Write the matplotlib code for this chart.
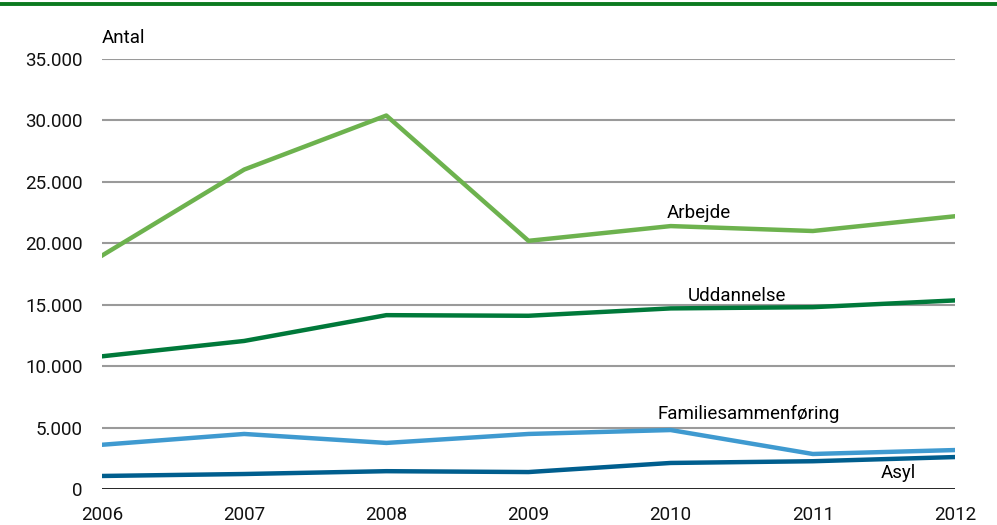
import matplotlib
matplotlib.use("Agg")
import matplotlib.pyplot as plt
from matplotlib.ticker import FuncFormatter

years = [2006, 2007, 2008, 2009, 2010, 2011, 2012]
arbejde = [19000, 26000, 30400, 20200, 21400, 21000, 22200]
uddannelse = [10800, 12050, 14150, 14100, 14700, 14800, 15350]
familie = [3600, 4480, 3750, 4480, 4800, 2850, 3170]
asyl = [1060, 1220, 1450, 1380, 2120, 2260, 2600]
yticks = [0, 5000, 10000, 15000, 20000, 25000, 30000, 35000]

plt.rcParams['font.family'] = ['Roboto', 'DejaVu Sans']
fs = 13.5

fig = plt.figure(figsize=(9.97, 5.25), dpi=100)
ax = fig.add_axes([102/997, 1-489/525, (955-102)/997, (489-59)/525])

# top decorative line
fig.add_artist(plt.Line2D([0, 1], [1-3.5/525, 1-3.5/525], color='#0B7A1F', lw=2.8, transform=fig.transFigure))

for v in yticks[1:]:
    ax.axhline(v, color='#9a9a9a', lw=1.5, zorder=1)
ax.axhline(0, color='#111111', lw=2, zorder=3)

ax.plot(years, arbejde, color='#6DB24E', lw=3.2, zorder=4)
ax.plot(years, uddannelse, color='#00793A', lw=3.2, zorder=4)
ax.plot(years, familie, color='#3F9AD0', lw=3.2, zorder=4)
ax.plot(years, asyl, color='#005E8E', lw=3.2, zorder=4)

ax.set_xlim(2006, 2012)
ax.set_ylim(0, 35000)
ax.set_yticks(yticks)
ax.yaxis.set_major_formatter(FuncFormatter(lambda v, p: f"{int(v):,}".replace(",", ".")))
ax.set_xticks(years)
for s in ax.spines.values():
    s.set_visible(False)
ax.tick_params(axis='both', length=0, labelsize=fs, colors='#111111')
ax.tick_params(axis='x', pad=12)
ax.tick_params(axis='y', pad=14)

ax.text(2006.0, 36700, "Antal", fontsize=fs, ha='left', va='center', clip_on=False)
ax.text(2010.2, 22500, "Arbejde", fontsize=fs, ha='center', va='center')
ax.text(2010.47, 15700, "Uddannelse", fontsize=fs, ha='center', va='center')
ax.text(2010.55, 6130, "Familiesammenføring", fontsize=fs, ha='center', va='center')
ax.text(2011.6, 1320, "Asyl", fontsize=fs, ha='center', va='center')

fig.savefig("out.png", dpi=100)
